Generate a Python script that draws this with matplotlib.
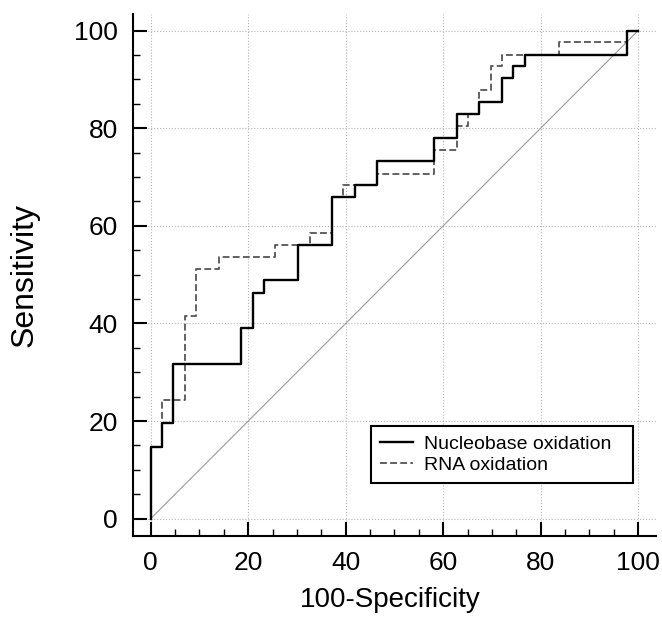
import numpy as np
from matplotlib import pyplot as plt
from matplotlib.ticker import MultipleLocator

# ROC corner points (100-Specificity, Sensitivity), drawn as post-steps
nucleo_x = [0, 0, 2.33, 4.65, 18.6, 20.9, 23.3, 30.2, 37.2, 41.9, 46.5,
            58.1, 62.8, 67.4, 72.1, 74.4, 76.7, 97.7, 100]
nucleo_y = [0, 14.6, 19.5, 31.7, 39.0, 46.3, 48.8, 56.1, 65.9, 68.3, 73.2,
            78.0, 82.9, 85.4, 90.2, 92.7, 95.1, 100, 100]

rna_x = [0, 0, 2.33, 6.98, 9.3, 13.95, 25.6, 32.6, 37.2, 39.5, 46.5,
         58.1, 62.8, 65.1, 67.4, 69.8, 72.1, 83.7, 97.7, 100]
rna_y = [0, 14.6, 24.4, 41.5, 51.2, 53.7, 56.1, 58.5, 65.9, 68.3, 70.7,
         75.6, 80.5, 82.9, 87.8, 92.7, 95.1, 97.6, 100, 100]

ticks = [0, 20, 40, 60, 80, 100]

plt.rcParams['font.family'] = ['Liberation Sans', 'DejaVu Sans']

fig = plt.figure(figsize=(6.62, 6.17), dpi=100)
ax = fig.add_axes([0.2009, 0.1313, 0.790, 0.846])

# reference diagonal
ax.plot([0, 100], [0, 100], color='#9a9a9a', lw=0.8, zorder=2)

ax.plot(nucleo_x, nucleo_y, drawstyle='steps-post', color='black', lw=1.7,
        label='Nucleobase oxidation', zorder=4)
rna_line, = ax.plot(rna_x, rna_y, drawstyle='steps-post', color='#555555',
                    lw=1.3, label='RNA oxidation', zorder=3)
rna_line.set_dashes([3.8, 1.8])

ax.set_xlim(-3.63, 103.65)
ax.set_ylim(-3.55, 103.4)
ax.set_xticks(ticks)
ax.set_yticks(ticks)
ax.xaxis.set_minor_locator(MultipleLocator(5))
ax.yaxis.set_minor_locator(MultipleLocator(5))

ax.grid(True, which='major', color='#b5b5b5', linestyle=':', lw=0.8)
ax.set_axisbelow(True)

for s in ['top', 'right']:
    ax.spines[s].set_visible(False)
for s in ['left', 'bottom']:
    ax.spines[s].set_linewidth(1.5)

ax.tick_params(which='major', direction='in', length=10, width=1.5,
               labelsize=19, pad=11)
ax.tick_params(which='minor', direction='in', length=5, width=1)

ax.set_xlabel('100-Specificity', fontsize=20)
ax.set_ylabel('Sensitivity', fontsize=23)
ax.xaxis.set_label_coords(0.491, -0.098)
ax.yaxis.set_label_coords(-0.178, 0.5)

leg = ax.legend(loc='lower left', bbox_to_anchor=(0.455, 0.1015, 0.501, 0.107),
                mode='expand', borderaxespad=0, fontsize=14, fancybox=False,
                framealpha=1, edgecolor='black', handlelength=1.7,
                handletextpad=0.6, labelspacing=0.2, borderpad=0.45)
leg.get_frame().set_linewidth(1.5)

plt.savefig('out.png', dpi=100)
